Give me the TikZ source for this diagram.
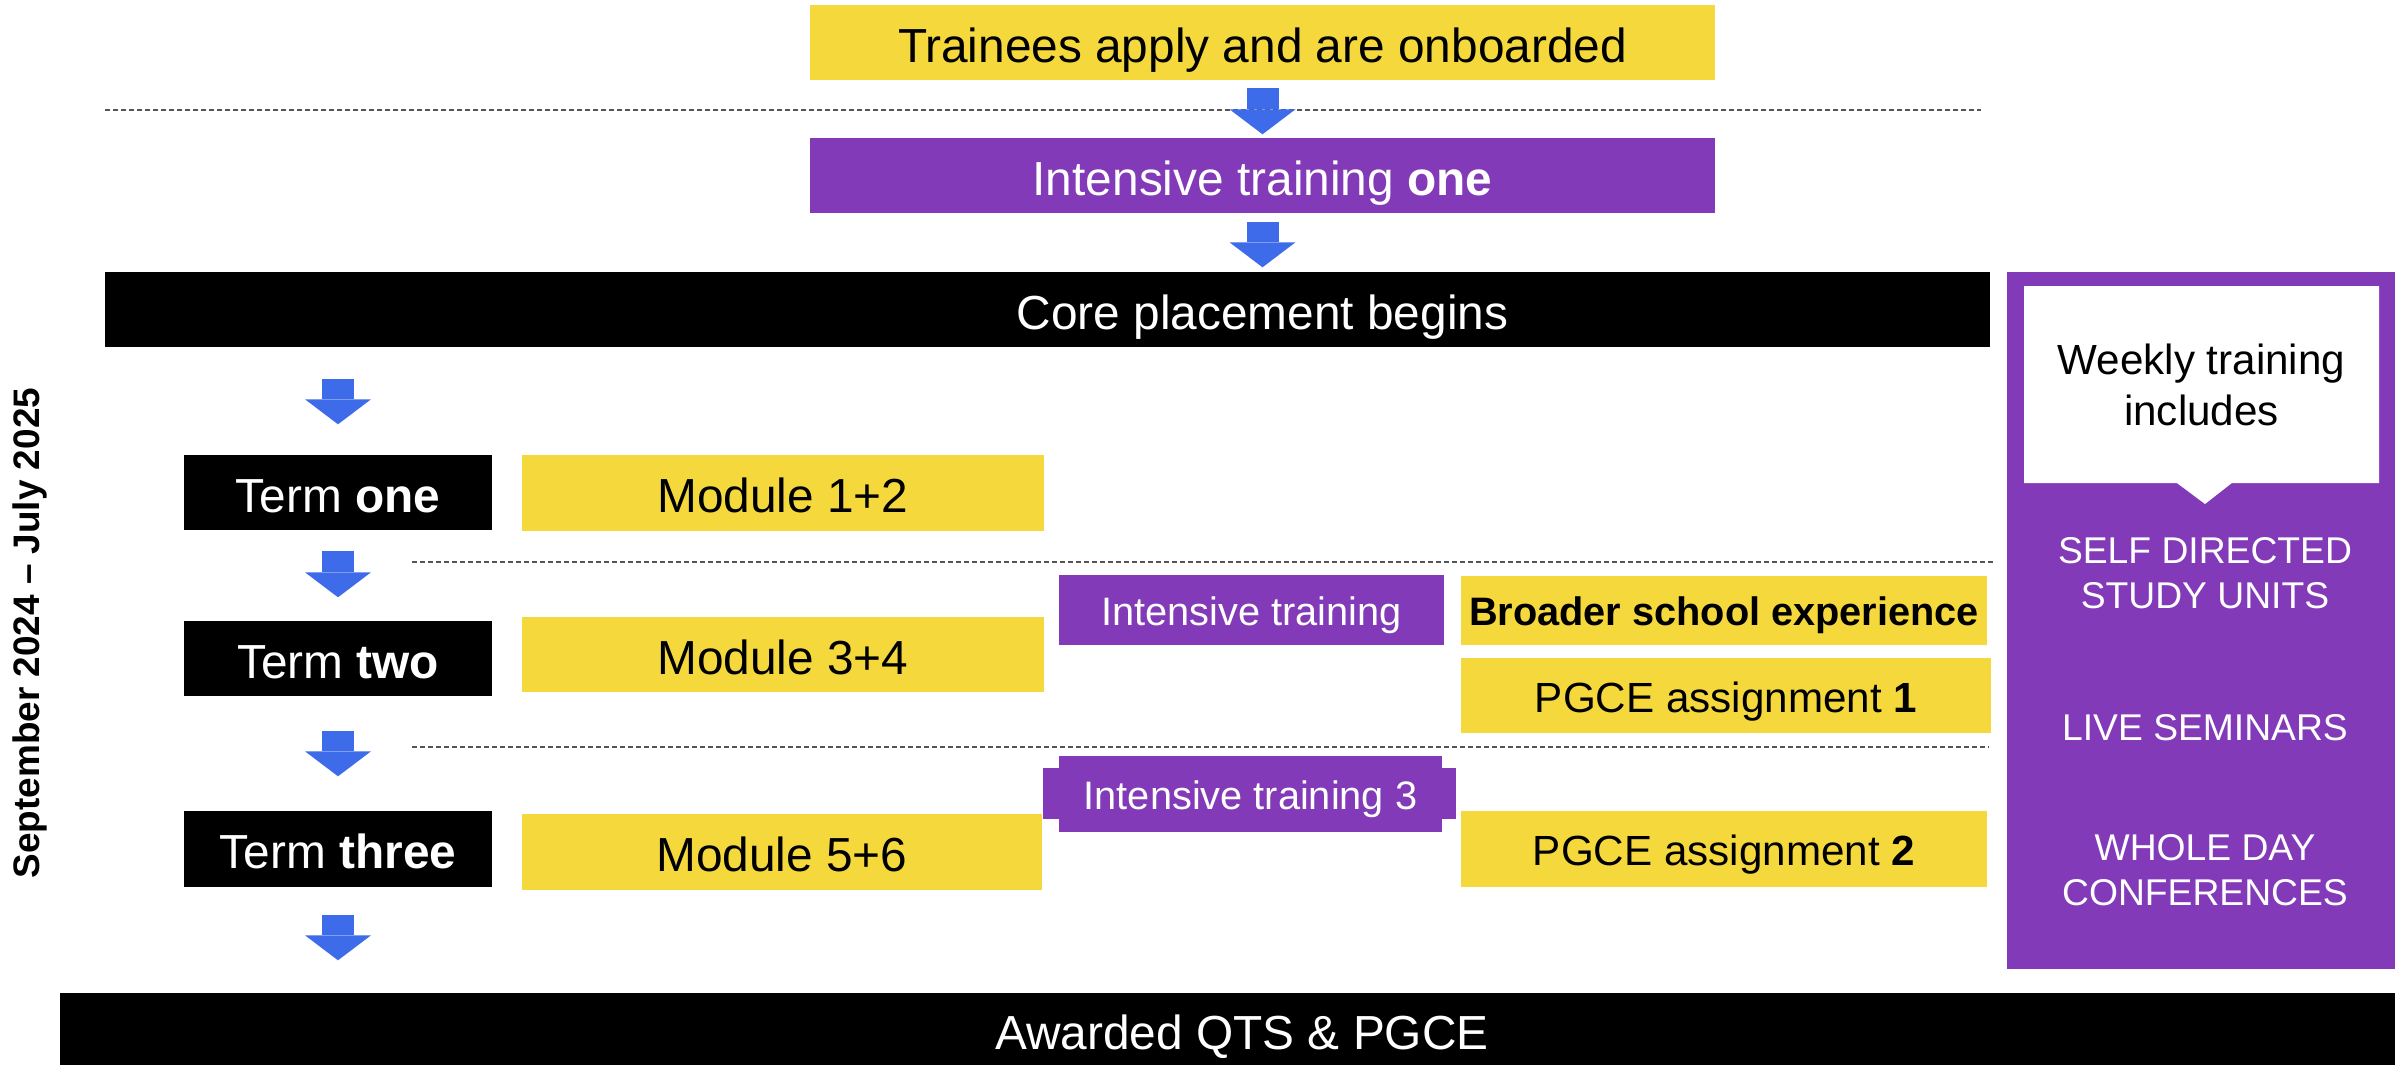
\documentclass[tikz,border=0pt]{standalone}
\usepackage{fontspec}
\setmainfont{Liberation Sans}
\usetikzlibrary{arrows.meta}
\usetikzlibrary{shapes.callouts}
\usetikzlibrary{backgrounds}
\definecolor{ittyellow}{HTML}{F5D93C}
\definecolor{ittpurple}{HTML}{833AB8}
\definecolor{ittblue}{HTML}{3D6BEA}
\definecolor{ittgrey}{HTML}{555555}

\begin{document}
\begin{tikzpicture}[
		box/.style={rectangle, inner sep=0pt},
		yellowbox/.style={box, fill=ittyellow, text=black},
		purplebox/.style={box, fill=ittpurple, text=white},
		blackbox/.style={box, fill=black, text=white},
		big/.style={font=\fontsize{13.6}{16}\selectfont, text height=11.2pt, text depth=0pt},
		mid/.style={font=\fontsize{12}{14.5}\selectfont, text height=9.4pt, text depth=0pt},
		small/.style={font=\fontsize{11.3}{13.5}\selectfont, text height=8.6pt, text depth=0pt},
		bluearrow/.style={ittblue, line width=0.32cm, -{Triangle[width=0.66cm, length=0.25cm, line width=0pt]}},
		divider/.style={ittgrey, line width=0.02cm, dash pattern=on 0.05cm off 0.03cm},
		]
		\useasboundingbox (0,0) rectangle (23.95,-10.65);
		
		% Inicio
		\node[yellowbox, big, minimum width=9.05cm, minimum height=0.75cm] (trainee) at (12.625,-0.425) {Trainees apply and are onboarded};
		\node[purplebox, big, minimum width=9.05cm, minimum height=0.75cm] (intone) at (12.625,-1.755) {Intensive training \textbf{one}};
		\node[blackbox, minimum width=18.85cm, minimum height=0.75cm] (core) at (10.475,-3.095) {};
		\node[big, text=white] (coretext) at (intone |- core) {Core placement begins};
		
		% Trimestres
		\node[blackbox, big, minimum width=3.08cm, minimum height=0.75cm] (t1) at (3.38,-4.925) {Term \textbf{one}};
		\node[blackbox, big, minimum width=3.08cm, minimum height=0.75cm] (t2) at (3.38,-6.585) {Term \textbf{two}};
		\node[blackbox, big, minimum width=3.08cm, minimum height=0.76cm] (t3) at (3.38,-8.49) {Term \textbf{three}};
		\node[yellowbox, big, minimum width=5.22cm, minimum height=0.76cm] (m1) at (7.83,-4.93) {Module 1+2};
		\node[yellowbox, big, minimum width=5.22cm, minimum height=0.75cm] (m2) at (7.83,-6.545) {Module 3+4};
		\node[yellowbox, big, minimum width=5.20cm, minimum height=0.76cm] (m3) at (7.82,-8.52) {Module 5+6};
		
		\node[purplebox, small, minimum width=3.85cm, minimum height=0.70cm] (it2) at (12.515,-6.10) {Intensive training};
		\node[purplebox, small, minimum width=3.83cm, minimum height=0.76cm] (it3) at (12.505,-7.94) {Intensive training 3};
		\begin{scope}[on background layer]
			\fill[ittpurple] ([xshift=-0.15cm,yshift=-0.13cm]it3.north west) rectangle ([xshift=0.13cm,yshift=0.14cm]it3.south east);
		\end{scope}
		\node[yellowbox, small, font=\fontsize{11.3}{13.5}\selectfont\bfseries, minimum width=5.26cm, minimum height=0.69cm] (bse) at (17.24,-6.105) {Broader school experience};
		\node[yellowbox, mid, minimum width=5.30cm, minimum height=0.75cm] (pg1) at (17.26,-6.955) {PGCE assignment \textbf{1}};
		\node[yellowbox, mid, minimum width=5.26cm, minimum height=0.76cm] (pg2) at (17.24,-8.49) {PGCE assignment \textbf{2}};
		
		\node[blackbox, big, minimum width=23.64cm, minimum height=0.74cm] (award) at (12.42,-10.30) {Awarded QTS \& PGCE};
		
		% Panel semanal
		\node[box, fill=ittpurple, minimum width=3.90cm, minimum height=6.97cm] (panel) at (22.02,-6.205) {};
		\node[rectangle callout, fill=white, inner sep=0pt, minimum width=3.55cm, minimum height=1.97cm,
		callout absolute pointer={(22.05,-5.04)}, callout pointer width=0.55cm,
		align=center, font=\fontsize{12}{14.5}\selectfont] (weekly) at (22.015,-3.845) {Weekly training\\includes};
		\node[text=white, align=center, font=\fontsize{10.6}{12.8}\selectfont] (selfstudy) at (22.05,-5.735) {SELF DIRECTED\\STUDY UNITS};
		\node[text=white, align=center, font=\fontsize{10.6}{12.8}\selectfont] (live) at (22.05,-7.28) {LIVE SEMINARS};
		\node[text=white, align=center, font=\fontsize{10.6}{12.8}\selectfont] (whole) at (22.05,-8.705) {WHOLE DAY\\CONFERENCES};
		
		\node[rotate=90, font=\fontsize{10.5}{13}\selectfont\bfseries] (period) at (0.30,-6.33) {September 2024 -- July 2025};
		
		% Separadores
		\draw[divider] (1.05,-1.10) -- (19.81,-1.10);
		\draw[divider] (4.12,-5.62) -- (19.95,-5.62);
		\draw[divider] (4.12,-7.47) -- (19.89,-7.47);
		
		% Flechas
		\draw[bluearrow, shorten <=0.07cm, shorten >=0.03cm] (trainee.south) -- (intone.north);
		\draw[bluearrow, shorten <=0.08cm, shorten >=0.04cm] (intone.south) -- (intone.south |- core.north);
		\foreach \a/\b/\s/\e in {core/t1/0.31/0.30, t1/t2/0.20/0.23, t2/t3/0.34/0.34, t3/award/0.27/0.32} {
			\draw[bluearrow, shorten <=\s cm, shorten >=\e cm, xshift=-0.05cm] (\a.south -| t1) -- (t1 |- \b.north);
		}
	\end{tikzpicture}
\end{document}
